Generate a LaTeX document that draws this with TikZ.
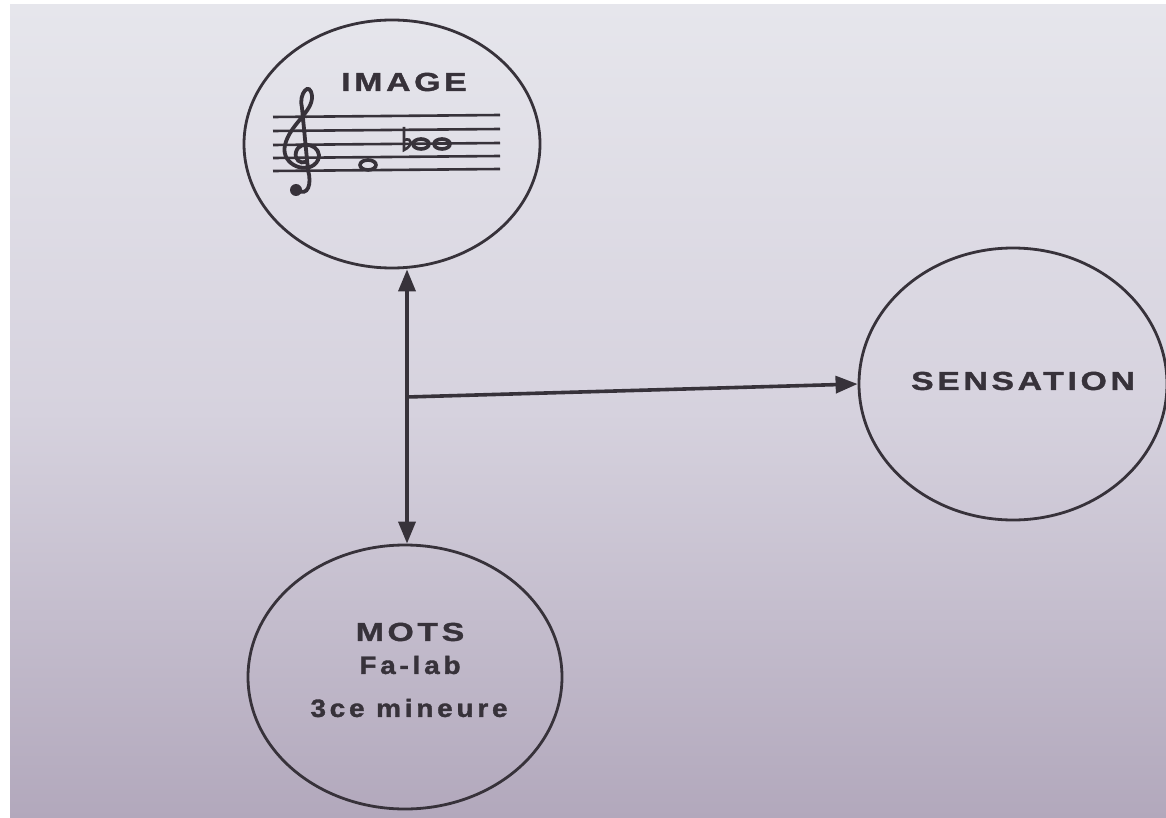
\documentclass[tikz,border=0pt]{standalone}
\usepackage{fontspec}
\setmainfont{Liberation Sans}
\newfontfamily\lblfont{Liberation Sans}[LetterSpace=14, FakeStretch=1.3, FakeBold=1.4]
\newfontfamily\lblsfont{Liberation Sans}[LetterSpace=15, FakeStretch=1.12, FakeBold=1.4]
\usetikzlibrary{shapes.geometric,arrows.meta}
\definecolor{ink}{RGB}{55,50,58}
\definecolor{paperT}{RGB}{230,230,236}
\definecolor{paperM}{RGB}{214,210,222}
\definecolor{paperB}{RGB}{178,168,188}
\tikzset{
  bubble/.style={ellipse, draw=ink, line width=2.8pt, inner sep=0pt},
  lbl/.style={font=\lblfont\bfseries\fontsize{26}{28}\selectfont, text=ink, align=center},
  lbls/.style={font=\lblsfont\bfseries\fontsize{25}{28}\selectfont, text=ink, align=center},
  conn/.style={draw=ink, line width=3.6pt, -{Triangle[length=22pt,width=17pt]}},
  staffline/.style={draw=ink, line width=2.6pt},
}
\begin{document}
\begin{tikzpicture}[x=1pt,y=-1pt]
\useasboundingbox (0,0) rectangle (1166,818);
\fill[white] (0,0) rectangle (1166,818);
\shade[top color=paperT, bottom color=paperB, middle color=paperM] (10,5) rectangle (1166,818);
% nodes
\node[bubble, minimum width=296pt, minimum height=248pt] (image) at (392,144) {};
\node[bubble, minimum width=314pt, minimum height=264pt] (mots) at (405,677) {};
\node[bubble, minimum width=308pt, minimum height=272pt] (sens) at (1013,384) {};
\node[lbl] (imgt) at (404,82) {IMAGE};
\node[lbl] (senst) at (1023,381) {SENSATION};
\node[lbl] (motst) at (410,632) {MOTS};
\node[lbls] (fat) at (410,665) {Fa-lab};
\node[lbls] (tierce) at (409,708) {3ce mineure};
% staff
\foreach \yy in {117,131,145,158,171} \draw[staffline] (273,\yy) -- (500,\yy-2);
% treble clef
\draw[ink, line width=3.8pt, line cap=round]
  (297,190) .. controls (308,197) and (312,184) .. (308,170)
  -- (302,108) .. controls (298,94) and (310,80) .. (312,96)
  .. controls (313,112) and (290,124) .. (285,145)
  .. controls (280,166) and (310,176) .. (318,160)
  .. controls (324,146) and (300,138) .. (296,152)
  .. controls (294,160) and (301,164) .. (305,162);
\fill[ink] (296,190) circle (6pt);
% notes
\draw[ink, line width=3.6pt] (368,165) ellipse (8pt and 5pt);
\draw[ink, line width=2.6pt] (404,127) -- (404,150) .. controls (413,146) and (413,137) .. (404,140);
\draw[ink, line width=3.6pt] (421,144) ellipse (8pt and 5pt);
\draw[ink, line width=3.6pt] (442,144) ellipse (8pt and 5pt);
% connectors
\coordinate (J) at (407,397);
\draw[conn] (J) -- (J |- image.south);
\draw[conn] (J) -- (J |- mots.north);
\draw[conn] (J) -- (sens.west);
\end{tikzpicture}
\end{document}
